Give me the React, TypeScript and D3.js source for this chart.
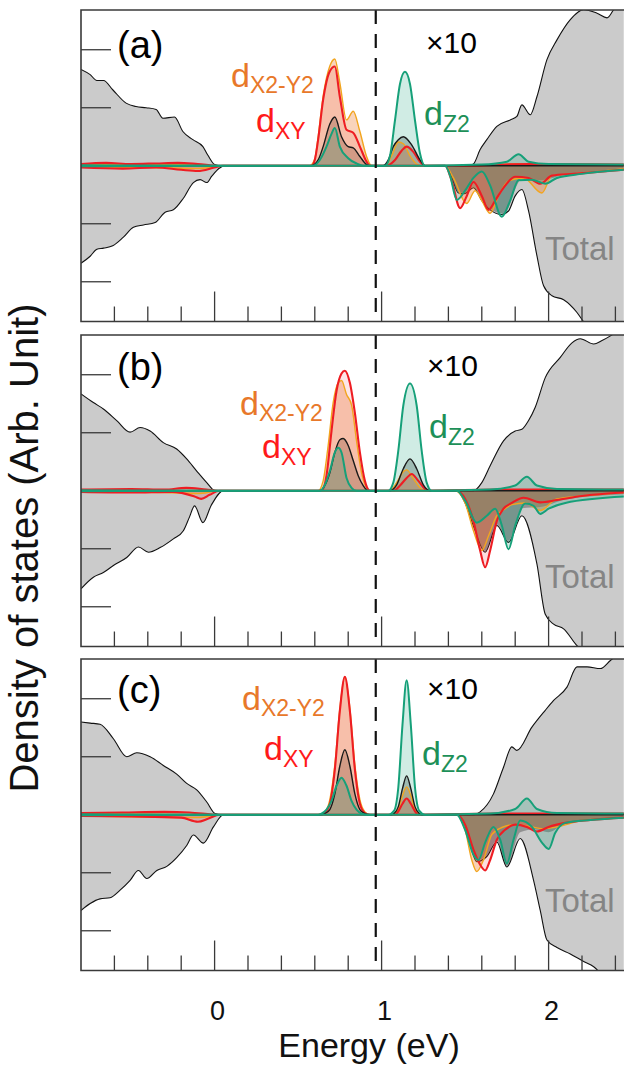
import React from 'react';
import * as d3 from 'd3';

type Pt = [number, number];

// energy (eV) vs DOS, in units of one y tick; orbital curves are the x10 ones
const TOTAL_UP_A: Pt[] = [[-0.8,1.66],[-0.745,1.57],[-0.705,1.47],[-0.665,1.47],[-0.61,1.31],[-0.53,1.08],[-0.47,1.02],[-0.41,1.0],[-0.35,0.97],[-0.31,0.82],[-0.24,0.84],[-0.19,0.59],[-0.13,0.45],[-0.07,0.33],[-0.04,0.18],[0.0,0.02],[0.03,0],[1.52,0],[1.55,0.03],[1.59,0.28],[1.63,0.45],[1.69,0.68],[1.77,0.79],[1.81,0.85],[1.84,1.05],[1.89,0.88],[1.93,1.19],[1.99,1.83],[2.05,2.17],[2.13,2.52],[2.21,2.69],[2.29,2.63],[2.35,2.55],[2.39,2.69],[2.45,2.85]];
const TOTAL_DOWN_A: Pt[] = [[-0.8,-1.68],[-0.745,-1.56],[-0.705,-1.44],[-0.665,-1.42],[-0.61,-1.38],[-0.546,-1.23],[-0.486,-1.06],[-0.426,-1.02],[-0.356,-0.98],[-0.296,-0.8],[-0.247,-0.76],[-0.187,-0.56],[-0.127,-0.29],[-0.087,-0.24],[-0.047,-0.29],[-0.017,-0.18],[0.03,-0.04],[0.06,0],[1.38,0],[1.42,-0.21],[1.46,-0.47],[1.5,-0.48],[1.55,-0.38],[1.6,-0.6],[1.65,-0.76],[1.72,-0.84],[1.76,-0.78],[1.8,-0.52],[1.84,-0.41],[1.88,-0.78],[1.93,-1.55],[1.97,-2.07],[2.02,-2.24],[2.09,-2.31],[2.17,-2.53],[2.21,-2.69],[2.3,-2.84],[2.45,-2.93]];
const TOTAL_UP_B: Pt[] = [[-0.8,1.67],[-0.726,1.52],[-0.666,1.41],[-0.586,1.21],[-0.506,1.01],[-0.446,1.09],[-0.386,1.03],[-0.307,0.83],[-0.227,0.72],[-0.167,0.55],[-0.107,0.34],[-0.047,0.14],[0.003,0],[1.55,0],[1.6,0.14],[1.65,0.43],[1.73,0.86],[1.8,1.03],[1.84,1.06],[1.88,1.21],[1.92,1.44],[1.98,1.95],[2.07,2.3],[2.14,2.55],[2.19,2.62],[2.27,2.53],[2.32,2.59],[2.37,2.67],[2.45,2.84]];
const TOTAL_DOWN_B: Pt[] = [[-0.8,-1.69],[-0.726,-1.49],[-0.666,-1.41],[-0.606,-1.29],[-0.526,-1.15],[-0.456,-0.97],[-0.396,-1.06],[-0.326,-0.98],[-0.247,-0.83],[-0.187,-0.69],[-0.15,-0.45],[-0.12,-0.26],[-0.07,-0.55],[-0.02,-0.25],[0.053,0],[1.45,0],[1.5,-0.21],[1.56,-0.69],[1.62,-1.06],[1.69,-0.6],[1.76,-0.89],[1.84,-0.43],[1.93,-1.26],[1.98,-2.13],[2.03,-2.3],[2.09,-2.38],[2.17,-2.67],[2.25,-2.84],[2.45,-2.93]];
const TOTAL_UP_C: Pt[] = [[-0.8,1.6],[-0.745,1.58],[-0.686,1.56],[-0.606,1.31],[-0.526,1.0],[-0.466,1.07],[-0.386,1.0],[-0.307,0.85],[-0.227,0.7],[-0.167,0.54],[-0.107,0.43],[-0.047,0.22],[0.003,0.02],[0.04,0],[1.55,0],[1.59,0.05],[1.67,0.36],[1.73,0.82],[1.78,1.17],[1.81,1.11],[1.9,1.51],[1.98,1.8],[2.03,1.97],[2.11,2.2],[2.17,2.55],[2.23,2.55],[2.31,2.52],[2.37,2.66],[2.45,2.84]];
const TOTAL_DOWN_C: Pt[] = [[-0.8,-1.65],[-0.745,-1.53],[-0.686,-1.45],[-0.626,-1.43],[-0.566,-1.3],[-0.506,-1.13],[-0.456,-0.96],[-0.406,-1.1],[-0.346,-0.96],[-0.286,-0.89],[-0.227,-0.74],[-0.167,-0.53],[-0.127,-0.35],[-0.067,-0.49],[-0.007,-0.21],[0.053,0],[1.45,0],[1.5,-0.21],[1.57,-0.81],[1.63,-0.72],[1.69,-0.47],[1.75,-0.9],[1.83,-0.41],[1.91,-1.13],[1.95,-1.65],[1.99,-2.16],[2.05,-2.29],[2.13,-2.4],[2.21,-2.53],[2.27,-2.62],[2.35,-2.84],[2.45,-2.93]];

// d_XY (red)
const XY_UP_A: Pt[] = [[-0.8,0.03],[-0.65,0.05],[-0.5,0.03],[-0.35,0.04],[-0.22,0.05],[-0.1,0.03],[0.03,0],[0.58,0],[0.6,0.1],[0.62,0.45],[0.65,1.14],[0.69,1.63],[0.72,1.71],[0.75,1.19],[0.79,0.62],[0.83,0.57],[0.87,0.33],[0.91,0.07],[0.93,0],[1.03,0],[1.08,0.1],[1.12,0.26],[1.15,0.33],[1.19,0.24],[1.23,0.07],[1.26,0],[1.55,0],[1.7,0.02],[1.9,0.03],[2.45,0.02]];
const XY_DOWN_A: Pt[] = [[-0.8,-0.03],[-0.55,-0.05],[-0.35,-0.03],[-0.2,-0.07],[-0.1,-0.09],[0,-0.03],[0.05,0],[1.38,0],[1.42,-0.26],[1.47,-0.73],[1.51,-0.52],[1.55,-0.28],[1.6,-0.52],[1.64,-0.76],[1.68,-0.6],[1.73,-0.38],[1.8,-0.19],[1.88,-0.21],[1.95,-0.31],[2.02,-0.17],[2.15,-0.14],[2.45,-0.07]];
const XY_UP_B: Pt[] = [[-0.8,0.02],[-0.5,0.03],[-0.3,0.02],[-0.17,0.05],[-0.05,0.02],[0.03,0],[0.64,0],[0.67,0.26],[0.7,1.03],[0.73,1.72],[0.76,2.02],[0.78,2.07],[0.81,1.86],[0.84,1.34],[0.87,0.66],[0.9,0.17],[0.93,0],[1.07,0],[1.11,0.09],[1.15,0.22],[1.18,0.29],[1.22,0.17],[1.26,0.03],[1.28,0],[1.7,0.02],[2.45,0.02]];
const XY_DOWN_B: Pt[] = [[-0.8,-0.02],[-0.5,-0.03],[-0.25,-0.02],[-0.12,-0.1],[-0.08,-0.14],[-0.03,-0.07],[0.03,0],[1.45,0],[1.5,-0.14],[1.55,-0.52],[1.59,-1.03],[1.62,-1.32],[1.65,-1.03],[1.69,-0.52],[1.73,-0.31],[1.78,-0.21],[1.85,-0.12],[1.95,-0.2],[2.05,-0.16],[2.2,-0.09],[2.45,-0.03]];
const XY_UP_C: Pt[] = [[-0.8,0.03],[-0.55,0.04],[-0.3,0.05],[-0.15,0.04],[0.03,0],[0.63,0],[0.66,0.03],[0.69,0.19],[0.72,0.78],[0.75,1.79],[0.78,2.38],[0.81,1.79],[0.84,0.78],[0.87,0.19],[0.9,0.03],[0.93,0],[1.08,0],[1.1,0.06],[1.125,0.19],[1.15,0.28],[1.175,0.19],[1.2,0.06],[1.22,0],[1.7,0.02],[2.45,0.02]];
const XY_DOWN_C: Pt[] = [[-0.8,-0.02],[-0.5,-0.03],[-0.2,-0.05],[-0.1,-0.12],[-0.04,-0.07],[0.03,0],[1.45,0],[1.5,-0.17],[1.55,-0.6],[1.59,-0.86],[1.62,-0.96],[1.65,-0.78],[1.69,-0.43],[1.74,-0.26],[1.8,-0.17],[1.87,-0.21],[1.93,-0.29],[2.0,-0.21],[2.1,-0.14],[2.25,-0.09],[2.45,-0.05]];

// d_X2-Y2 (orange)
const X2Y2_UP_A: Pt[] = [[-0.8,0.02],[-0.5,0.02],[-0.2,0.02],[0.03,0],[0.57,0],[0.6,0.12],[0.62,0.5],[0.65,1.2],[0.69,1.72],[0.72,1.84],[0.75,1.43],[0.79,0.79],[0.83,0.94],[0.87,0.59],[0.91,0.16],[0.94,0],[1.02,0],[1.06,0.17],[1.1,0.41],[1.13,0.38],[1.17,0.17],[1.21,0.03],[1.24,0],[1.55,0],[1.8,0.03],[2.45,0.02]];
const X2Y2_DOWN_A: Pt[] = [[-0.8,-0.02],[-0.4,-0.03],[-0.1,-0.05],[0.05,0],[1.38,0],[1.43,-0.21],[1.51,-0.65],[1.56,-0.43],[1.6,-0.6],[1.65,-0.82],[1.7,-0.52],[1.76,-0.26],[1.85,-0.21],[1.96,-0.47],[2.02,-0.17],[2.15,-0.14],[2.45,-0.05]];
const X2Y2_UP_B: Pt[] = [[-0.8,0.01],[0.03,0],[0.62,0],[0.65,0.17],[0.68,0.78],[0.71,1.52],[0.74,1.86],[0.76,1.9],[0.79,1.66],[0.82,1.48],[0.85,0.86],[0.88,0.31],[0.91,0.05],[0.93,0],[1.05,0],[1.09,0.14],[1.13,0.33],[1.15,0.36],[1.19,0.21],[1.23,0.05],[1.26,0],[1.7,0.02],[2.45,0.02]];
const X2Y2_DOWN_B: Pt[] = [[-0.8,-0.02],[-0.3,-0.03],[-0.1,-0.05],[0.03,0],[1.44,0],[1.5,-0.21],[1.55,-0.69],[1.6,-1.03],[1.64,-0.78],[1.69,-0.43],[1.74,-0.31],[1.78,-0.24],[1.86,-0.21],[1.95,-0.34],[2.05,-0.14],[2.2,-0.09],[2.45,-0.03]];
const X2Y2_UP_C: Pt[] = [[-0.8,0.02],[0.03,0],[0.62,0],[0.66,0.05],[0.69,0.26],[0.72,0.86],[0.75,1.83],[0.78,2.38],[0.81,1.83],[0.84,0.86],[0.87,0.26],[0.9,0.05],[0.93,0],[1.06,0],[1.075,0.02],[1.1,0.1],[1.125,0.33],[1.15,0.48],[1.175,0.33],[1.2,0.1],[1.225,0.02],[1.24,0],[1.7,0.02],[2.45,0.02]];
const X2Y2_DOWN_C: Pt[] = [[-0.8,-0.02],[-0.1,-0.05],[0.03,0],[1.45,0],[1.5,-0.26],[1.54,-0.78],[1.57,-0.98],[1.61,-0.78],[1.66,-0.34],[1.72,-0.22],[1.8,-0.17],[1.9,-0.21],[1.96,-0.24],[2.05,-0.21],[2.2,-0.1],[2.45,-0.05]];

// d_Z2 (green)
const Z2_UP_A: Pt[] = [[-0.8,0.01],[0.03,0],[0.59,0],[0.63,0.1],[0.67,0.33],[0.7,0.55],[0.72,0.65],[0.75,0.33],[0.8,0.13],[0.85,0.04],[0.89,0],[1.02,0],[1.05,0.17],[1.08,0.78],[1.11,1.41],[1.14,1.62],[1.17,1.41],[1.2,0.78],[1.23,0.21],[1.26,0],[1.6,0.02],[1.75,0.07],[1.82,0.2],[1.88,0.07],[2.0,0.03],[2.45,0.02]];
const Z2_DOWN_A: Pt[] = [[-0.8,-0.01],[0.05,0],[1.38,0],[1.41,-0.17],[1.45,-0.59],[1.5,-0.43],[1.55,-0.21],[1.6,-0.1],[1.65,-0.34],[1.72,-0.88],[1.77,-0.6],[1.82,-0.25],[1.9,-0.24],[1.98,-0.31],[2.05,-0.21],[2.2,-0.14],[2.45,-0.07]];
const Z2_UP_B: Pt[] = [[-0.8,0.01],[0.03,0],[0.63,0],[0.66,0.1],[0.69,0.34],[0.72,0.66],[0.74,0.74],[0.76,0.66],[0.79,0.22],[0.82,0.05],[0.85,0],[1.04,0],[1.07,0.14],[1.1,0.69],[1.13,1.47],[1.17,1.85],[1.21,1.47],[1.24,0.69],[1.27,0.14],[1.3,0],[1.65,0.02],[1.8,0.09],[1.87,0.24],[1.93,0.09],[2.05,0.03],[2.45,0.02]];
const Z2_DOWN_B: Pt[] = [[-0.8,-0.01],[0.03,0],[1.45,0],[1.5,-0.17],[1.57,-0.55],[1.63,-0.43],[1.68,-0.31],[1.72,-0.6],[1.76,-1.01],[1.8,-0.6],[1.86,-0.22],[1.91,-0.26],[1.95,-0.4],[2.0,-0.31],[2.1,-0.21],[2.45,-0.1]];
const Z2_UP_C: Pt[] = [[-0.8,0.01],[0.03,0],[0.62,0],[0.64,0.02],[0.67,0.09],[0.7,0.24],[0.73,0.5],[0.76,0.64],[0.79,0.5],[0.82,0.24],[0.85,0.09],[0.88,0.02],[0.91,0],[1.04,0],[1.075,0.07],[1.1,0.47],[1.125,1.55],[1.15,2.32],[1.175,1.55],[1.2,0.47],[1.225,0.07],[1.26,0],[1.65,0.02],[1.8,0.1],[1.87,0.28],[1.93,0.1],[2.05,0.03],[2.45,0.02]];
const Z2_DOWN_C: Pt[] = [[-0.8,-0.01],[0.03,0],[1.45,0],[1.5,-0.26],[1.55,-0.69],[1.58,-0.78],[1.62,-0.48],[1.67,-0.21],[1.71,-0.43],[1.75,-0.84],[1.79,-0.43],[1.83,-0.1],[1.9,-0.21],[1.96,-0.48],[2.0,-0.59],[2.04,-0.31],[2.1,-0.14],[2.25,-0.09],[2.45,-0.05]];

// black curve
const D_UP_A: Pt[] = [[-0.8,0],[0.58,0],[0.62,0.1],[0.65,0.33],[0.69,0.72],[0.72,0.84],[0.76,0.5],[0.8,0.33],[0.83,0.31],[0.87,0.16],[0.91,0.02],[0.93,0],[1.01,0],[1.04,0.1],[1.07,0.33],[1.1,0.45],[1.13,0.5],[1.18,0.36],[1.23,0.1],[1.26,0],[2.45,0]];
const D_UP_B: Pt[] = [[-0.8,0],[0.63,0],[0.66,0.09],[0.69,0.31],[0.72,0.66],[0.75,0.88],[0.77,0.9],[0.8,0.78],[0.83,0.52],[0.86,0.26],[0.89,0.09],[0.92,0],[1.05,0],[1.09,0.1],[1.13,0.38],[1.17,0.55],[1.21,0.38],[1.25,0.1],[1.29,0],[2.45,0]];
const D_UP_C: Pt[] = [[-0.8,0],[0.63,0],[0.66,0.02],[0.69,0.09],[0.72,0.36],[0.75,0.84],[0.78,1.12],[0.81,0.84],[0.84,0.36],[0.87,0.09],[0.9,0.02],[0.93,0],[1.06,0],[1.075,0.02],[1.1,0.14],[1.125,0.45],[1.15,0.67],[1.175,0.45],[1.2,0.14],[1.225,0.02],[1.24,0],[2.45,0]];
const D_DOWN_A: Pt[] = [[-0.8,0],[1.38,0],[1.42,-0.2],[1.46,-0.45],[1.5,-0.47],[1.55,-0.37],[1.6,-0.58],[1.65,-0.74],[1.72,-0.82],[1.76,-0.72],[1.8,-0.4],[1.85,-0.2],[1.95,-0.25],[2.1,-0.15],[2.45,-0.06]];
const D_DOWN_B: Pt[] = [[-0.8,0],[1.45,0],[1.5,-0.2],[1.56,-0.67],[1.62,-1.04],[1.69,-0.58],[1.76,-0.86],[1.84,-0.3],[1.95,-0.28],[2.1,-0.15],[2.45,-0.06]];
const D_DOWN_C: Pt[] = [[-0.8,0],[1.45,0],[1.5,-0.2],[1.57,-0.79],[1.63,-0.7],[1.69,-0.45],[1.75,-0.88],[1.83,-0.3],[1.92,-0.25],[2.0,-0.3],[2.1,-0.15],[2.45,-0.06]];

const PANEL_TAGS = ['(a)', '(b)', '(c)'];
const MAJOR_TICKS = [0, 1, 2];
const MINOR_TICKS = [-0.6, -0.4, -0.2, 0.2, 0.4, 0.6, 0.8, 1.2, 1.4, 1.6, 1.8, 2.2, 2.4];
const Y_TICKS = [-2, -1, 1, 2];
const DASH_E = 0.965;

const PANELS = [
  { totalUp: TOTAL_UP_A, totalDown: TOTAL_DOWN_A, xy: [XY_UP_A, XY_DOWN_A], x2y2: [X2Y2_UP_A, X2Y2_DOWN_A], z2: [Z2_UP_A, Z2_DOWN_A], d: [D_UP_A, D_DOWN_A] },
  { totalUp: TOTAL_UP_B, totalDown: TOTAL_DOWN_B, xy: [XY_UP_B, XY_DOWN_B], x2y2: [X2Y2_UP_B, X2Y2_DOWN_B], z2: [Z2_UP_B, Z2_DOWN_B], d: [D_UP_B, D_DOWN_B] },
  { totalUp: TOTAL_UP_C, totalDown: TOTAL_DOWN_C, xy: [XY_UP_C, XY_DOWN_C], x2y2: [X2Y2_UP_C, X2Y2_DOWN_C], z2: [Z2_UP_C, Z2_DOWN_C], d: [D_UP_C, D_DOWN_C] },
];

// label placement per panel (absolute px)
const LABELS = [
  { tag: [117, 58], x2y2: [231, 87], xy: [256, 132], x10: [426, 53], z2: [424, 125], total: [545, 260] },
  { tag: [117, 380], x2y2: [240, 415], xy: [262, 458], x10: [427, 376], z2: [429, 438], total: [545, 588] },
  { tag: [117, 703], x2y2: [242, 710], xy: [264, 760], x10: [427, 699], z2: [422, 765], total: [545, 912] },
];

const W = 624;
const HGT = 1068;
const LEFT = 81;
const PH = 311.5;
const TOPS = [10, 335, 659];
const FONT = '"Liberation Sans", Arial, Helvetica, sans-serif';

const RED = '#ee1d23';
const ORANGE_LINE = '#f2a51e';
const ORANGE_FILL = '#ee7d30';
const GREEN = '#16a079';
const INK = '#3a3a3a';

const x = d3.scaleLinear().domain([-0.8, 2.45]).range([LEFT, 623.75]);

function Panel({ i }: { i: number }) {
  const p = PANELS[i];
  const top = TOPS[i];
  const lab = LABELS[i];
  const y = d3.scaleLinear().domain([-2.685, 2.685]).range([top + PH, top]);
  const area = d3.area<Pt>().x(d => x(d[0])).y0(y(0)).y1(d => y(d[1])).curve(d3.curveMonotoneX);
  const line = d3.line<Pt>().x(d => x(d[0])).y(d => y(d[1])).curve(d3.curveMonotoneX);
  const clip = `clip-${i}`;
  const bottom = top + PH;

  const orbitalFills: [Pt[], string, number][] = [
    [p.d[0], '#000000', 0.24], [p.d[1], '#000000', 0.28],
    [p.x2y2[0], ORANGE_FILL, 0.33], [p.x2y2[1], ORANGE_FILL, 0.36],
    [p.xy[0], RED, 0.11], [p.xy[1], RED, 0.15],
    [p.z2[0], GREEN, 0.2], [p.z2[1], GREEN, 0.22],
  ];
  const orbitalLines: [Pt[], string, number][] = [
    [p.x2y2[0], ORANGE_LINE, 1.4], [p.x2y2[1], ORANGE_LINE, 1.4],
    [p.xy[0], RED, 2.1], [p.xy[1], RED, 2.1],
    [p.d[0], '#1a1a1a', 1.4],
    [p.z2[0], GREEN, 2.0], [p.z2[1], GREEN, 2.0],
  ];

  return (
    <g>
      <defs>
        <clipPath id={clip}>
          <rect x={LEFT} y={top} width={W - LEFT} height={PH} />
        </clipPath>
      </defs>
      <g clipPath={`url(#${clip})`}>
        <path d={area(p.totalUp) || ''} fill="#cbcbcb" />
        <path d={area(p.totalDown) || ''} fill="#cbcbcb" />
        <path d={line(p.totalUp) || ''} fill="none" stroke="#111" strokeWidth={1.1} />
        <path d={line(p.totalDown) || ''} fill="none" stroke="#111" strokeWidth={1.1} />
        {orbitalFills.map(([s, c, o], k) => (
          <path key={'f' + k} d={area(s) || ''} fill={c} fillOpacity={o} />
        ))}
        {orbitalLines.map(([s, c, w], k) => (
          <path key={'l' + k} d={line(s) || ''} fill="none" stroke={c} strokeWidth={w} strokeLinejoin="round" />
        ))}
        <line x1={x(DASH_E)} x2={x(DASH_E)} y1={top} y2={bottom} stroke="#111" strokeWidth={2.2} strokeDasharray="14 10" />
      </g>
      {/* frame: right side runs off the page */}
      <path d={`M${W},${top}H${LEFT}V${bottom}H${W}`} fill="none" stroke={INK} strokeWidth={1.6} />
      {MAJOR_TICKS.map(t => (
        <line key={'M' + t} x1={x(t)} x2={x(t)} y1={bottom} y2={bottom - 30} stroke={INK} strokeWidth={1.3} />
      ))}
      {MINOR_TICKS.map(t => (
        <line key={'m' + t} x1={x(t)} x2={x(t)} y1={bottom} y2={bottom - 15} stroke={INK} strokeWidth={1.3} />
      ))}
      {Y_TICKS.map(t => (
        <line key={'y' + t} x1={LEFT} x2={LEFT + 30} y1={y(t)} y2={y(t)} stroke={INK} strokeWidth={1.3} />
      ))}
      <g fontFamily={FONT}>
        <text x={lab.tag[0]} y={lab.tag[1]} fontSize={38} fill="#000">{PANEL_TAGS[i]}</text>
        <text x={lab.x2y2[0]} y={lab.x2y2[1]} fontSize={34} fill="#e8782a">
          d<tspan fontSize={23} dy={6}>X2-Y2</tspan>
        </text>
        <text x={lab.xy[0]} y={lab.xy[1]} fontSize={34} fill="#ff1a1a">
          d<tspan fontSize={23} dy={7}>XY</tspan>
        </text>
        <text x={lab.x10[0]} y={lab.x10[1]} fontSize={30} fill="#000">×10</text>
        <text x={lab.z2[0]} y={lab.z2[1]} fontSize={34} fill="#1d9058">
          d<tspan fontSize={23} dy={7}>Z2</tspan>
        </text>
        <text x={lab.total[0]} y={lab.total[1]} fontSize={33} fill="#858585">Total</text>
      </g>
    </g>
  );
}

export default function App() {
  const lastBottom = TOPS[2] + PH;
  return (
    <svg width={W} height={HGT} style={{ position: 'absolute', left: 0, top: 0, background: '#fff' }}>
      <rect x={0} y={0} width={W} height={HGT} fill="#fff" />
      {PANELS.map((_, i) => <Panel key={i} i={i} />)}
      <g fontFamily={FONT} fill="#111">
        {MAJOR_TICKS.map(t => (
          <text key={t} x={x(t) + 3} y={lastBottom + 49} fontSize={27} textAnchor="middle">{t}</text>
        ))}
        <text x={369} y={1057} fontSize={34} textAnchor="middle">Energy (eV)</text>
        <text transform="translate(38,548) rotate(-90)" fontSize={40} textAnchor="middle">Density of states (Arb. Unit)</text>
      </g>
    </svg>
  );
}
